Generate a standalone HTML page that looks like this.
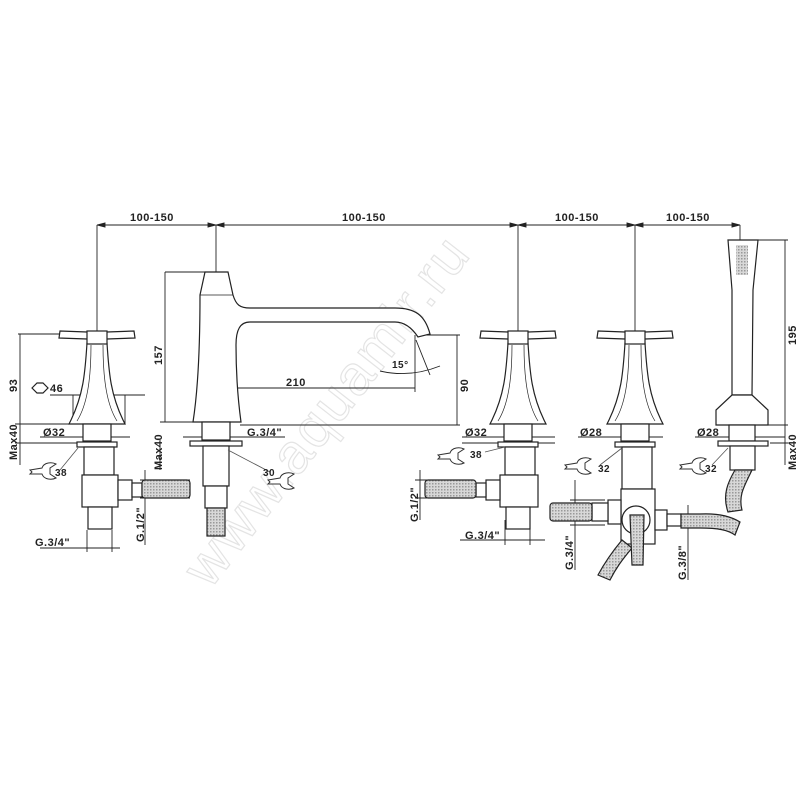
<!DOCTYPE html>
<html><head><meta charset="utf-8"><style>
html,body{margin:0;padding:0;background:#fff}
svg{display:block}
text{font-family:"Liberation Sans",sans-serif;font-size:11px;font-weight:bold;fill:#222;letter-spacing:0.5px}
</style></head><body>
<svg width="800" height="800" viewBox="0 0 800 800" xmlns="http://www.w3.org/2000/svg">
<defs>
<pattern id="hatch" width="3" height="3" patternUnits="userSpaceOnUse"><rect width="3" height="3" fill="#d8d8d8"/><rect width="1.5" height="1.5" fill="#999"/></pattern>
<g id="head" fill="#fff" stroke="#222" stroke-width="1.2">
 <path d="M-10,8 L10,8 C12,40 14,60 26,85 L28,89 L-28,89 L-26,85 C-14,60 -12,40 -10,8 Z"/>
 <path d="M-6,10 C-6,45 -10,70 -20,86 M6,10 C6,45 10,70 20,86" fill="none" stroke-width="0.7"/>
 <path d="M-37,-4 L-10,-3 L10,-3 L37,-4 L38,3 L10,4 L-10,4 L-38,3 Z"/>
 <rect x="-10" y="-4" width="20" height="13"/>
 <rect x="-14" y="89" width="28" height="17"/>
 <rect x="-20" y="107" width="40" height="5"/>
</g>
<g id="wrench" fill="#fff" stroke="#333" stroke-width="1">
 <path d="M0,0 L12,-2 C14,-8 22,-8 26,-6 L20,-2 L20,4 L26,8 C22,10 14,10 12,4 L0,4 L2,2 Z"/>
</g>
</defs>

<text x="0" y="0" transform="translate(210,590) rotate(-52)" style="font-size:56px;font-weight:normal;fill:none;stroke:#e4e4e4;stroke-width:1.2;letter-spacing:2px">www.aquamir.ru</text>

<g stroke="#222" stroke-width="0.9" fill="none">
<line x1="97" y1="225" x2="740" y2="225"/>
<line x1="97" y1="225" x2="97" y2="333"/>
<line x1="216" y1="225" x2="216" y2="422"/>
<line x1="518" y1="225" x2="518" y2="333"/>
<line x1="635" y1="225" x2="635" y2="333"/>
<line x1="740" y1="225" x2="740" y2="240"/>
<path d="M97,225 l8,-2 v4 z M216,225 l-8,-2 v4z M216,225 l8,-2 v4z M518,225 l-8,-2 v4z M518,225 l8,-2 v4z M635,225 l-8,-2 v4z M635,225 l8,-2 v4z M740,225 l-8,-2 v4z" fill="#222"/>
<line x1="165" y1="272" x2="216" y2="272"/>
<line x1="165" y1="272" x2="165" y2="422"/>
<line x1="160" y1="422" x2="195" y2="422"/>
<line x1="18" y1="334" x2="60" y2="334"/>
<line x1="20" y1="334" x2="20" y2="465"/>
<line x1="15" y1="424" x2="72" y2="424"/>
<line x1="15" y1="443" x2="78" y2="443"/>
<line x1="160" y1="440" x2="160" y2="470"/>
<line x1="50" y1="395" x2="145" y2="395"/>
<line x1="73" y1="395" x2="73" y2="424"/>
<line x1="125" y1="395" x2="125" y2="424"/>
<line x1="40" y1="437" x2="130" y2="437"/>
<line x1="216" y1="388" x2="415" y2="388"/>
<line x1="415" y1="335" x2="415" y2="392"/>
<line x1="420" y1="335" x2="460" y2="335"/>
<line x1="457" y1="335" x2="457" y2="425"/>
<line x1="240" y1="425" x2="460" y2="425"/>
<path d="M380,371 Q410,378 440,366"/>
<line x1="416" y1="340" x2="430" y2="375"/>
<line x1="183" y1="437" x2="285" y2="437"/>
<line x1="462" y1="437" x2="555" y2="437"/>
<line x1="462" y1="443" x2="555" y2="443"/>
<line x1="578" y1="437" x2="663" y2="437"/>
<line x1="695" y1="437" x2="785" y2="437"/>
<line x1="758" y1="240" x2="788" y2="240"/>
<line x1="785" y1="240" x2="785" y2="465"/>
<line x1="768" y1="425" x2="788" y2="425"/>
<line x1="770" y1="443" x2="788" y2="443"/>
<line x1="40" y1="548" x2="120" y2="548"/>
<line x1="87" y1="530" x2="87" y2="552"/>
<line x1="112" y1="530" x2="112" y2="552"/>
<line x1="145" y1="470" x2="145" y2="545"/>
<line x1="140" y1="480" x2="190" y2="480"/>
<line x1="140" y1="498" x2="190" y2="498"/>
<line x1="420" y1="470" x2="420" y2="520"/>
<line x1="415" y1="480" x2="470" y2="480"/>
<line x1="415" y1="498" x2="470" y2="498"/>
<line x1="460" y1="540" x2="545" y2="540"/>
<line x1="505" y1="520" x2="505" y2="545"/>
<line x1="530" y1="520" x2="530" y2="545"/>
<line x1="575" y1="480" x2="575" y2="570"/>
<line x1="570" y1="500" x2="605" y2="500"/>
<line x1="570" y1="525" x2="605" y2="525"/>
<line x1="688" y1="505" x2="688" y2="580"/>
</g>

<use href="#head" x="97" y="335"/>
<use href="#head" x="518" y="335"/>
<use href="#head" x="635" y="335"/>

<g fill="#fff" stroke="#222" stroke-width="1.2">
<rect x="84" y="447" width="30" height="28"/>
<rect x="82" y="475" width="36" height="32"/>
<rect x="88" y="507" width="24" height="22"/>
<rect x="118" y="480" width="14" height="20"/>
<rect x="132" y="483" width="10" height="14"/>
<rect x="142" y="480" width="48" height="18" fill="url(#hatch)" rx="3"/>
<rect x="505" y="447" width="30" height="28"/>
<rect x="500" y="475" width="38" height="32"/>
<rect x="506" y="507" width="24" height="22"/>
<rect x="486" y="480" width="14" height="20"/>
<rect x="476" y="483" width="10" height="14"/>
<rect x="425" y="480" width="51" height="18" fill="url(#hatch)" rx="3"/>
<path d="M205,272 L228,272 L233,295 C236,305 240,308 250,308 L395,308 C415,308 425,315 430,334 L418,337 C412,328 405,322 395,322 L250,322 C240,322 236,330 236,345 C236,370 238,400 241,422 L193,422 C198,390 200,340 200,295 Z"/>
<line x1="200" y1="295" x2="233" y2="295" stroke-width="0.8"/>
<rect x="202" y="422" width="28" height="18"/>
<rect x="190" y="441" width="52" height="5"/>
<rect x="203" y="446" width="26" height="40"/>
<rect x="205" y="486" width="22" height="22"/>
<rect x="207" y="508" width="18" height="28" fill="url(#hatch)"/>
<rect x="622" y="447" width="30" height="42"/>
<rect x="621" y="489" width="34" height="55"/>
<rect x="608" y="500" width="13" height="24"/>
<rect x="592" y="503" width="16" height="18"/>
<rect x="550" y="503" width="42" height="18" fill="url(#hatch)" rx="3"/>
<rect x="655" y="510" width="12" height="20"/>
<rect x="667" y="514" width="14" height="12"/>
<path d="M681,514 L700,514 C720,513 732,517 740,522 L735,535 C728,530 718,528 700,528 L681,528 Z" fill="url(#hatch)"/>
<path d="M622,540 C612,552 605,562 598,575 L610,580 C616,568 622,560 632,548 Z" fill="url(#hatch)"/>
<circle cx="636" cy="520" r="14"/>
<path d="M630,515 L644,515 L643,565 L632,565 Z" fill="url(#hatch)"/>
<path d="M728,240 L758,240 L753,290 L752,395 L732,395 L732,290 Z"/>
<path d="M732,395 L752,395 L768,410 L768,425 L716,425 L716,410 Z"/>
<rect x="729" y="425" width="26" height="16"/>
<rect x="718" y="441" width="50" height="5"/>
<rect x="730" y="446" width="25" height="24"/>
<path d="M735,470 L752,470 C745,485 738,495 742,510 L728,512 C722,495 728,482 735,470 Z" fill="url(#hatch)"/>
<rect x="736" y="245" width="12" height="30" fill="url(#hatch)" stroke="none"/>
<path d="M32,388 l5,-5 h6 l5,5 l-5,5 h-6 z"/>
</g>

<g stroke="#555" stroke-width="0.8" fill="none">
<line x1="60" y1="470" x2="78" y2="448"/>
<line x1="270" y1="472" x2="228" y2="450"/>
<line x1="485" y1="452" x2="505" y2="447"/>
<line x1="600" y1="465" x2="622" y2="448"/>
<line x1="712" y1="465" x2="728" y2="448"/>
</g>
<use href="#wrench" x="30" y="470"/>
<use href="#wrench" x="268" y="480"/>
<use href="#wrench" x="438" y="455"/>
<use href="#wrench" x="565" y="465"/>
<use href="#wrench" x="680" y="465"/>

<text x="130" y="221">100-150</text>
<text x="342" y="221">100-150</text>
<text x="555" y="221">100-150</text>
<text x="666" y="221">100-150</text>
<text x="286" y="386">210</text>
<text x="392" y="368" style="font-size:10px">15°</text>
<text x="50" y="392">46</text>
<text x="43" y="436">Ø32</text>
<text x="247" y="436">G.3/4"</text>
<text x="465" y="436">Ø32</text>
<text x="580" y="436">Ø28</text>
<text x="697" y="436">Ø28</text>
<text x="55" y="476" style="font-size:10px">38</text>
<text x="263" y="476" style="font-size:10px">30</text>
<text x="470" y="458" style="font-size:10px">38</text>
<text x="598" y="472" style="font-size:10px">32</text>
<text x="705" y="472" style="font-size:10px">32</text>
<text x="35" y="546">G.3/4"</text>
<text x="465" y="539">G.3/4"</text>
<text transform="translate(17,392) rotate(-90)">93</text>
<text transform="translate(17,460) rotate(-90)">Max40</text>
<text transform="translate(162,365) rotate(-90)">157</text>
<text transform="translate(162,470) rotate(-90)">Max40</text>
<text transform="translate(468,392) rotate(-90)">90</text>
<text transform="translate(796,345) rotate(-90)">195</text>
<text transform="translate(796,470) rotate(-90)">Max40</text>
<text transform="translate(144,542) rotate(-90)">G.1/2"</text>
<text transform="translate(418,522) rotate(-90)">G.1/2"</text>
<text transform="translate(573,570) rotate(-90)">G.3/4"</text>
<text transform="translate(686,580) rotate(-90)">G.3/8"</text>
</svg>
</body></html>
